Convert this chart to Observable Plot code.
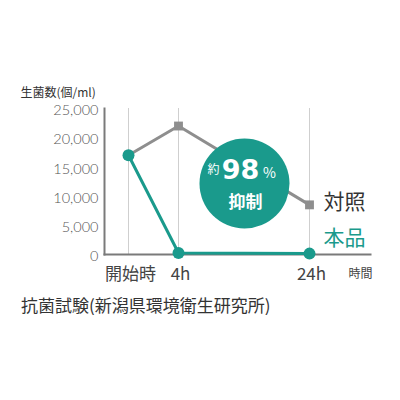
<!DOCTYPE html>
<html>
<head>
<meta charset="utf-8">
<script src="https://cdn.jsdelivr.net/npm/d3@7"></script>
<script src="https://cdn.jsdelivr.net/npm/@observablehq/plot@0.6"></script>
<style>
  body { margin: 0; background: #fff; font-family: "Noto Sans CJK JP", "Noto Sans", sans-serif; }
  #caption { font-size: 17px; color: #333; padding-left: 21px; line-height: 20px; margin-top: 5px; white-space: nowrap; }
</style>
</head>
<body>
<div id="chart"></div>
<div id="caption">抗菌試験(新潟県環境衛生研究所)</div>
<script>
const times = [0, 4, 24];
const timeLabels = ["開始時", "4h", "24h"];
const controlValues = [17000, 22000, 8500];
const productValues = [17000, 250, 150];
const seriesNames = ["対照", "本品"];
const yTicks = [0, 5000, 10000, 15000, 20000, 25000];
const yLabel = "生菌数(個/ml)";
const xUnit = "時間";
const badgeLines = ["約", "98", "%", "抑制"];

const teal = "#1a9a8c";
const gray = "#8e8e8e";
const control = times.map((t, i) => ({t, v: controlValues[i], s: seriesNames[0]}));
const product = times.map((t, i) => ({t, v: productValues[i], s: seriesNames[1]}));
const fmt = d3.format(",");
const jp = "Noto Sans CJK JP";

const chart = Plot.plot({
  width: 400,
  height: 290,
  marginLeft: 104,
  marginRight: 30,
  marginTop: 108,
  marginBottom: 36,
  style: {fontFamily: jp, background: "#fff", overflow: "visible"},
  x: {domain: times, range: [128, 178, 309], type: "linear"},
  y: {domain: [0, 25000]},
  marks: [
    Plot.ruleX(times, {stroke: "#cfcfcf", strokeWidth: 1}),
    Plot.frame({anchor: "left", stroke: "#7a7a7a", strokeWidth: 2}),
    Plot.frame({anchor: "bottom", stroke: "#7a7a7a", strokeWidth: 2}),
    Plot.axisY({ticks: yTicks, tickSize: 0, tickPadding: 6, tickFormat: fmt, label: null, fontSize: 14.5, fill: "#555", dy: 2, fontFamily: "Lato", fontWeight: 300}),
    Plot.axisX({ticks: times, tickSize: 0, tickPadding: 13, tickFormat: (d) => timeLabels[times.indexOf(d)], label: null, fontSize: 17, fill: "#444", dx: 2}),
    Plot.line(control, {x: "t", y: "v", stroke: gray, strokeWidth: 3}),
    Plot.dot(control, {x: "t", y: "v", symbol: "square", r: 5, fill: gray}),
    Plot.line(product, {x: "t", y: "v", stroke: teal, strokeWidth: 3}),
    Plot.dot(product, {x: "t", y: "v", r: 6, fill: teal}),
    Plot.text(control, Plot.selectLast({x: "t", y: "v", text: "s", textAnchor: "start", dx: 14, dy: -3, fontSize: 21, fill: "#333"})),
    Plot.text(product, Plot.selectLast({x: "t", y: "v", text: "s", textAnchor: "start", dx: 14, dy: -15, fontSize: 21, fill: teal})),
    Plot.text([yLabel], {x: null, y: null, text: (d) => d, frameAnchor: "top-left", textAnchor: "start", dx: -84, dy: -20, fontSize: 12, fill: "#333"}),
    Plot.text([xUnit], {x: null, y: null, text: (d) => d, frameAnchor: "bottom-right", textAnchor: "end", dx: 2, dy: 23, fontSize: 12, fill: "#444"}),
    Plot.dot([0], {x: null, y: null, frameAnchor: "middle", dx: 7, dy: 2, r: 45, fill: teal}),
    Plot.text([badgeLines[0]], {x: null, y: null, text: (d) => d, frameAnchor: "middle", dx: -24, dy: -11, fontSize: 12, fill: "#fff"}),
    Plot.text([badgeLines[1]], {x: null, y: null, text: (d) => d, frameAnchor: "middle", dx: 3, dy: -11, fontSize: 27, fontWeight: "bold", fontFamily: "DejaVu Sans", fill: "#fff"}),
    Plot.text([badgeLines[2]], {x: null, y: null, text: (d) => d, frameAnchor: "middle", dx: 32, dy: -8, fontSize: 14, fill: "#fff"}),
    Plot.text([badgeLines[3]], {x: null, y: null, text: (d) => d, frameAnchor: "middle", dx: 8, dy: 21, fontSize: 17, fontWeight: "bold", fill: "#fff"})
  ]
});
document.getElementById("chart").appendChild(chart);
</script>
</body>
</html>
